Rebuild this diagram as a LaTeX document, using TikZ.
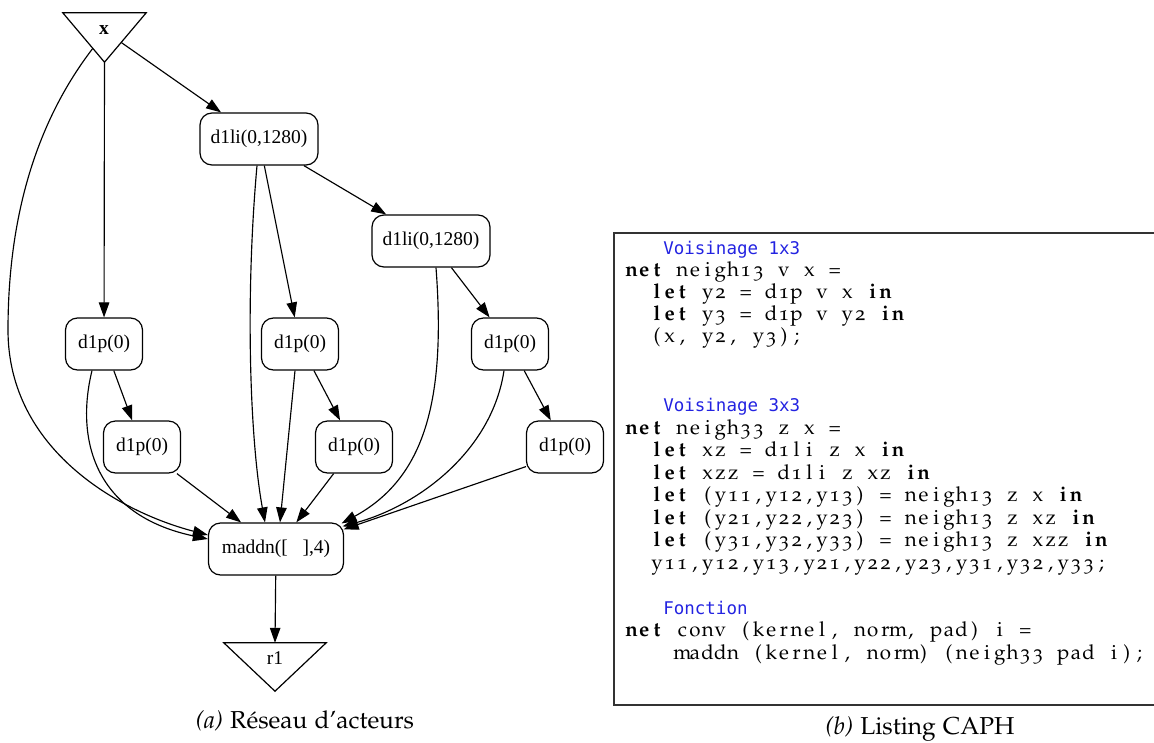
\documentclass[tikz,border=0pt]{standalone}
\usepackage[T1]{fontenc}
\usepackage{fontspec}
\usetikzlibrary{arrows.meta,calc}
\newfontfamily\gfont{Liberation Serif}
\newfontfamily\cmtfont{DejaVu Sans Mono}
\definecolor{cmtblue}{RGB}{35,35,225}
\newlength\colw \setlength\colw{12.7pt}
\ExplSyntaxOn
\NewDocumentCommand\fx{m}{\str_map_inline:nn {#1} {\makebox[\colw][c]{##1}}}
\ExplSyntaxOff
\newcommand\lstf{\fontencoding{T1}\fontfamily{pplj}\fontseries{m}\fontshape{n}\fontsize{20.5pt}{22.5pt}\selectfont}
\newcommand\kw[1]{{\fontseries{b}\selectfont\fx{#1}}}
\newcommand\cmt[1]{{\cmtfont\fontsize{17.5pt}{20pt}\selectfont\color{cmtblue}#1}}
\newcommand\capf{\fontencoding{T1}\fontfamily{pplj}\fontseries{m}\fontshape{n}\fontsize{24.5pt}{29pt}\selectfont}
\begin{document}
\begin{tikzpicture}[x=1pt,y=-1pt,
  gbox/.style={draw, line width=1.2pt, rounded corners=12pt, minimum height=52pt, inner sep=2pt, font=\gfont\fontsize{19.5pt}{22pt}\selectfont},
  dp/.style={gbox, minimum width=77pt},
  dli/.style={gbox, minimum width=118pt},
  madd/.style={gbox, minimum width=135pt},
  tribox/.style={inner sep=0pt, minimum width=#1},
  tri/.style={draw, line width=1.2pt, line join=miter},
  lab/.style={inner sep=0pt, font=\gfont\fontsize{19.5pt}{22pt}\selectfont},
  arr/.style={line width=1.15pt, -{Triangle[length=15pt,width=10.5pt]}},
  code/.style={anchor=base west, inner sep=0pt, font=\lstf},
  capt/.style={anchor=base, inner sep=0pt, font=\capf}]
\useasboundingbox (0,0) rectangle (1154,742);

% ---------- graph ----------
\node[tribox=83pt, minimum height=49pt] (x) at (104.5,37.5) {};
\draw[tri] (x.north west) -- (x.north east) -- (x.south) -- cycle;
\node[lab] (xl) at (104,30) {\bfseries x};

\node[dli] (d1li1) at (259,139) {d1li(0,1280)};
\node[dli] (d1li2) at (431,241) {d1li(0,1280)};
\node[dp] (L1) at (104,344) {d1p(0)};
\node[dp] (M1) at (300,344) {d1p(0)};
\node[dp] (R1) at (510,344) {d1p(0)};
\node[dp] (L2) at (142,447) {d1p(0)};
\node[dp] (M2) at (354,447) {d1p(0)};
\node[dp] (R2) at (565,447) {d1p(0)};
\node[madd] (maddn) at (276,549) {maddn([\hspace{0.75em}],4)};

\node[tribox=102pt, minimum height=48pt] (r1) at (275,667) {};
\draw[tri] (r1.north west) -- (r1.north east) -- (r1.south) -- cycle;
\node[lab] (r1l) at (275,658) {r1};

% edges
\draw[arr] ($(x.north east)!0.6!(x.south)$) -- (d1li1);
\draw[arr] (x.south) -- (L1);
\draw[arr] ($(x.north west)!0.72!(x.south)$) .. controls (30,130) and (8,230) .. (8,330)
           .. controls (8,450) and (120,512) .. ($(maddn.west)+(0,-14)$);
\draw[arr] (d1li1) -- (d1li2);
\draw[arr] (d1li1) -- (M1);
\draw[arr] ($(d1li1.south)+(-2,0)$) .. controls (245,300) and (250,440) .. ($(maddn.north)+(-11,0)$);
\draw[arr] (d1li2) -- (R1);
\draw[arr] ($(d1li2.south)+(5,0)$) .. controls (446,400) and (425,478) .. ($(maddn.north east)+(-2.5,1)$);
\draw[arr] (L1) -- (L2);
\draw[arr] ($(L1.south)+(-12,0)$) .. controls (75,440) and (95,515) .. ($(maddn.west)+(0,-10)$);
\draw[arr] (L2) -- (maddn);
\draw[arr] (M1) -- (M2);
\draw[arr] ($(M1.south)+(-5,0)$) -- ($(maddn.north)+(4,0)$);
\draw[arr] (M2) -- (maddn);
\draw[arr] (R1) -- (R2);
\draw[arr] ($(R1.south)+(-6,0)$) .. controls (492,450) and (420,505) .. ($(maddn.north east)+(-1.5,4)$);
\draw[arr] ($(R2.south west)+(0,-7)$) -- ($(maddn.north east)+(-0.5,7)$);
\draw[arr] (maddn) -- (r1.north);

\node[capt] (capa) at (305,728) {{\itshape (a)} R\'eseau d'acteurs};

% ---------- listing ----------
\draw[line width=1.4pt, black!80] (1160,233) -- (614,233) -- (614,705) -- (1160,705);
\node[code] (c1)  at (625+3*12.7,254)   {\cmt{Voisinage 1x3}};
\node[code] (c2)  at (625,276)          {\kw{net}\fx{ neigh13 v x =}};
\node[code] (c3)  at (625+2*12.7,298)   {\kw{let}\fx{ y2 = d1p v x }\kw{in}};
\node[code] (c4)  at (625+2*12.7,320)   {\kw{let}\fx{ y3 = d1p v y2 }\kw{in}};
\node[code] (c5)  at (625+2*12.7,342)   {\fx{(x, y2, y3);}};
\node[code] (c8)  at (625+3*12.7,411.5) {\cmt{Voisinage 3x3}};
\node[code] (c9)  at (625,434)          {\kw{net}\fx{ neigh33 z x =}};
\node[code] (c10) at (625+2*12.7,456.5) {\kw{let}\fx{ xz = d1li z x }\kw{in}};
\node[code] (c11) at (625+2*12.7,479)   {\kw{let}\fx{ xzz = d1li z xz }\kw{in}};
\node[code] (c12) at (625+2*12.7,501.5) {\kw{let}\fx{ (y11,y12,y13) = neigh13 z x }\kw{in}};
\node[code] (c13) at (625+2*12.7,524)   {\kw{let}\fx{ (y21,y22,y23) = neigh13 z xz }\kw{in}};
\node[code] (c14) at (625+2*12.7,546.5) {\kw{let}\fx{ (y31,y32,y33) = neigh13 z xzz }\kw{in}};
\node[code] (c15) at (625+2*12.7,569)   {\fx{y11,y12,y13,y21,y22,y23,y31,y32,y33;}};
\node[code] (c17) at (625+3*12.7,614)   {\cmt{Fonction}};
\node[code] (c18) at (625,636.5)        {\kw{net}\fx{ conv (kernel, norm, pad) i =}};
\node[code] (c19) at (625+4*12.7,659)   {\fx{maddn (kernel, norm) (neigh33 pad i);}};

\node[capt] (capb) at (920,734) {{\itshape (b)} Listing CAPH};
\end{tikzpicture}
\end{document}
